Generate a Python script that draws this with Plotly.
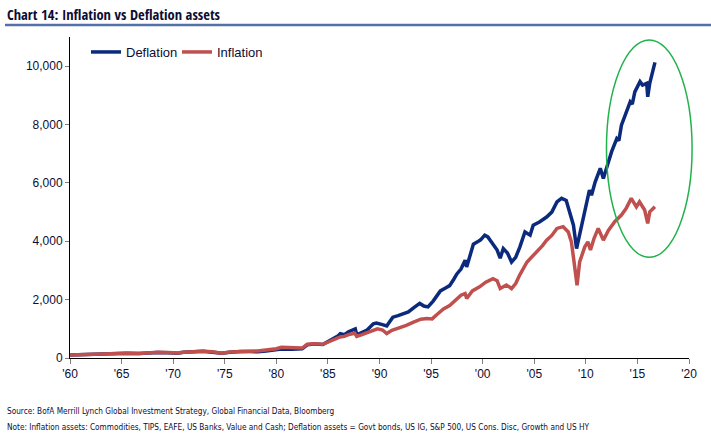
import plotly.graph_objects as go

# ---- data ----
defl_years = [1960.0, 1961.0, 1962.0, 1962.5, 1963.5, 1964.5, 1965.5, 1966.7, 1967.5, 1968.5,
              1969.5, 1970.4, 1971.0, 1972.0, 1972.9, 1973.8, 1974.7, 1975.5, 1976.5, 1977.5,
              1978.2, 1979.0, 1980.0, 1980.5, 1981.5, 1982.5, 1983.0, 1983.6, 1984.5, 1985.0,
              1985.5, 1986.0, 1986.2, 1986.6, 1987.0, 1987.5, 1987.65, 1987.8, 1988.3, 1988.8,
              1989.4, 1989.7, 1990.2, 1990.7, 1991.0, 1991.3, 1991.8, 1992.3, 1992.8, 1993.3,
              1993.9, 1994.3, 1994.7, 1995.2, 1995.6, 1995.9, 1996.4, 1996.8, 1997.2, 1997.5,
              1997.9, 1998.3, 1998.45, 1998.7, 1999.1, 1999.5, 1999.8, 2000.2, 2000.5, 2000.9,
              2001.4, 2001.7, 2002.0, 2002.4, 2002.8, 2003.2, 2003.6, 2004.1, 2004.6, 2004.9,
              2005.5, 2006.2, 2006.7, 2007.2, 2007.65, 2008.1, 2008.45, 2008.8, 2009.1, 2009.4,
              2009.9, 2010.35, 2010.55, 2010.9, 2011.4, 2011.7, 2012.1, 2012.5, 2013.0, 2013.2,
              2013.45, 2013.8, 2014.3, 2014.5, 2014.75, 2015.25, 2015.5, 2015.9, 2016.0, 2016.2,
              2016.35, 2016.7]
defl_values = [100, 115, 120, 110, 135, 150, 160, 150, 175, 190,
               180, 165, 195, 215, 230, 200, 160, 200, 225, 220,
               215, 240, 280, 310, 300, 320, 450, 480, 460, 560,
               640, 760, 830, 800, 900, 960, 1000, 790, 880, 960,
               1170, 1200, 1150, 1100, 1250, 1400, 1450, 1520, 1580, 1720,
               1870, 1780, 1750, 1950, 2150, 2300, 2400, 2480, 2700, 2880,
               3050, 3350, 3120, 3450, 3900, 3980, 4050, 4210, 4150, 3950,
               3700, 3420, 3750, 3600, 3290, 3450, 3800, 4320, 4210, 4550,
               4660, 4830, 5000, 5350, 5470, 5400, 5000, 4550, 3750, 4200,
               5000, 5750, 5580, 6030, 6500, 6150, 6610, 7070, 7520, 7450,
               7980, 8320, 8780, 8700, 9120, 9470, 9350, 9410, 8950, 9420,
               9640, 10130]

infl_years = [1960.0, 1961.0, 1962.0, 1962.5, 1963.5, 1964.5, 1965.5, 1966.7, 1967.5, 1968.5,
              1969.5, 1970.4, 1971.0, 1972.0, 1972.9, 1973.8, 1974.7, 1975.5, 1976.5, 1977.5,
              1978.2, 1979.0, 1980.0, 1980.5, 1981.5, 1982.5, 1983.0, 1983.6, 1984.5, 1985.0,
              1985.5, 1986.2, 1986.6, 1987.0, 1987.6, 1987.8, 1988.3, 1988.8, 1989.4, 1989.8,
              1990.3, 1990.7, 1991.2, 1991.8, 1992.6, 1993.3, 1994.0, 1994.6, 1995.1, 1995.6,
              1996.2, 1996.8, 1997.5, 1997.9, 1998.3, 1998.45, 1999.0, 1999.7, 2000.3, 2001.0,
              2001.4, 2001.7, 2002.3, 2002.8, 2003.2, 2003.6, 2004.3, 2004.6, 2005.2, 2005.8,
              2006.2, 2006.7, 2007.2, 2007.8, 2008.3, 2008.6, 2008.9, 2009.15, 2009.4, 2009.9,
              2010.2, 2010.45, 2010.8, 2011.2, 2011.7, 2012.2, 2012.8, 2013.45, 2013.9, 2014.4,
              2014.9, 2015.2, 2015.7, 2016.0, 2016.2, 2016.7]
infl_values = [100, 115, 120, 112, 135, 150, 160, 155, 175, 195,
               185, 170, 200, 215, 235, 215, 165, 205, 230, 235,
               240, 265, 320, 370, 350, 340, 470, 490, 470, 540,
               600, 720, 740, 800, 850, 740, 800, 860, 950, 1000,
               960, 840, 950, 1010, 1120, 1230, 1330, 1350, 1340, 1500,
               1680, 1800, 2000, 2150, 2210, 2040, 2300, 2440, 2600, 2720,
               2650, 2380, 2500, 2380, 2550, 2850, 3290, 3400, 3640, 3850,
               4040, 4200, 4440, 4500, 4320, 3980, 3180, 2490, 3290, 3810,
               3980, 3700, 4100, 4440, 4040, 4380, 4670, 4900, 5120, 5470,
               5180, 5350, 5070, 4610, 5010, 5180]

tick_years = [1960, 1965, 1970, 1975, 1980, 1985, 1990, 1995, 2000, 2005, 2010, 2015, 2020]
tick_labels = ["'60", "'65", "'70", "'75", "'80", "'85", "'90", "'95", "'00", "'05", "'10", "'15", "'20"]
y_ticks = [0, 2000, 4000, 6000, 8000, 10000]

title_text = "Chart 14: Inflation vs Deflation assets"
source_text = "Source: BofA Merrill Lynch Global Investment Strategy, Global Financial Data, Bloomberg"
note_text = ("Note: Inflation assets: Commodities, TIPS, EAFE, US Banks, Value and Cash; "
             "Deflation assets = Govt bonds, US IG, S&P 500, US Cons. Disc, Growth and US HY")

# highlight ellipse bounds (data units)
ell_x = [2012.0, 2020.3]
ell_y = [3450, 10900]

X_RANGE = [1960, 2020]
Y_RANGE = [0, 11000]

BLUE = "#0b2a7c"
RED = "#c0504d"
TXT = "#0d0d33"
TITLE_FONT = "Open Sans Condensed, DejaVu Sans Condensed, sans-serif"
COND = "DejaVu Sans Condensed, sans-serif"
ARIAL = "Liberation Sans, Arial, sans-serif"

fig = go.Figure()
fig.add_trace(go.Scatter(x=defl_years, y=defl_values, name="Deflation", mode="lines",
                         line=dict(color=BLUE, width=3.5)))
fig.add_trace(go.Scatter(x=infl_years, y=infl_values, name="Inflation", mode="lines",
                         line=dict(color=RED, width=3.5)))

W, H = 711, 444
L, R, T, B = 70, 22, 37, 86
pw, ph = W - L - R, H - T - B

def px_x(p):
    return (p - L) / pw

def px_y(p):
    return (H - B - p) / ph

def dx(v):
    return (v - X_RANGE[0]) / (X_RANGE[1] - X_RANGE[0])

def dy(v):
    return (v - Y_RANGE[0]) / (Y_RANGE[1] - Y_RANGE[0])

fig.update_layout(
    width=W, height=H,
    margin=dict(l=L, r=R, t=T, b=B, pad=0),
    paper_bgcolor="white", plot_bgcolor="white",
    showlegend=True,
    legend=dict(orientation="h", x=px_x(86), y=px_y(37), xanchor="left", yanchor="top",
                font=dict(family=ARIAL, size=13, color=TXT), bgcolor="rgba(0,0,0,0)",
                itemwidth=30, tracegroupgap=0, entrywidth=46, entrywidthmode="pixels"),
    xaxis=dict(range=X_RANGE, tickvals=tick_years, ticktext=tick_labels,
               showgrid=False, zeroline=False, showline=True, linecolor="black", linewidth=1,
               ticks="outside", ticklen=5, tickcolor="#808080",
               tickfont=dict(family=ARIAL, size=12, color=TXT)),
    yaxis=dict(range=Y_RANGE, tickvals=y_ticks, tickformat=",d",
               showgrid=False, zeroline=False, showline=True, linecolor="black", linewidth=1,
               ticks="outside", ticklen=4, tickcolor="#808080",
               tickfont=dict(family=ARIAL, size=12, color=TXT)),
    shapes=[
        dict(type="line", xref="paper", yref="paper", x0=px_x(5), x1=px_x(711),
             y0=px_y(25), y1=px_y(25), line=dict(color="#5470a8", width=2.5)),
        dict(type="circle", xref="paper", yref="paper",
             x0=dx(ell_x[0]), x1=dx(ell_x[1]), y0=dy(ell_y[0]), y1=dy(ell_y[1]),
             line=dict(color="#22b24c", width=1.5)),
    ],
    annotations=[
        dict(text=title_text, xref="paper", yref="paper",
             x=px_x(5), y=px_y(14), xanchor="left", yanchor="middle", showarrow=False,
             font=dict(family=TITLE_FONT, size=14.5, weight=700, color=TXT)),
        dict(text=source_text, xref="paper", yref="paper",
             x=px_x(5), y=px_y(411), xanchor="left", yanchor="middle", showarrow=False,
             font=dict(family=COND, size=8.2, color=TXT)),
        dict(text=note_text, xref="paper", yref="paper",
             x=px_x(5), y=px_y(427), xanchor="left", yanchor="middle", showarrow=False,
             font=dict(family=COND, size=8.2, color=TXT)),
    ],
)

fig.write_html("out.html", post_script="document.body.style.margin='0';",
               config={"displayModeBar": False})
